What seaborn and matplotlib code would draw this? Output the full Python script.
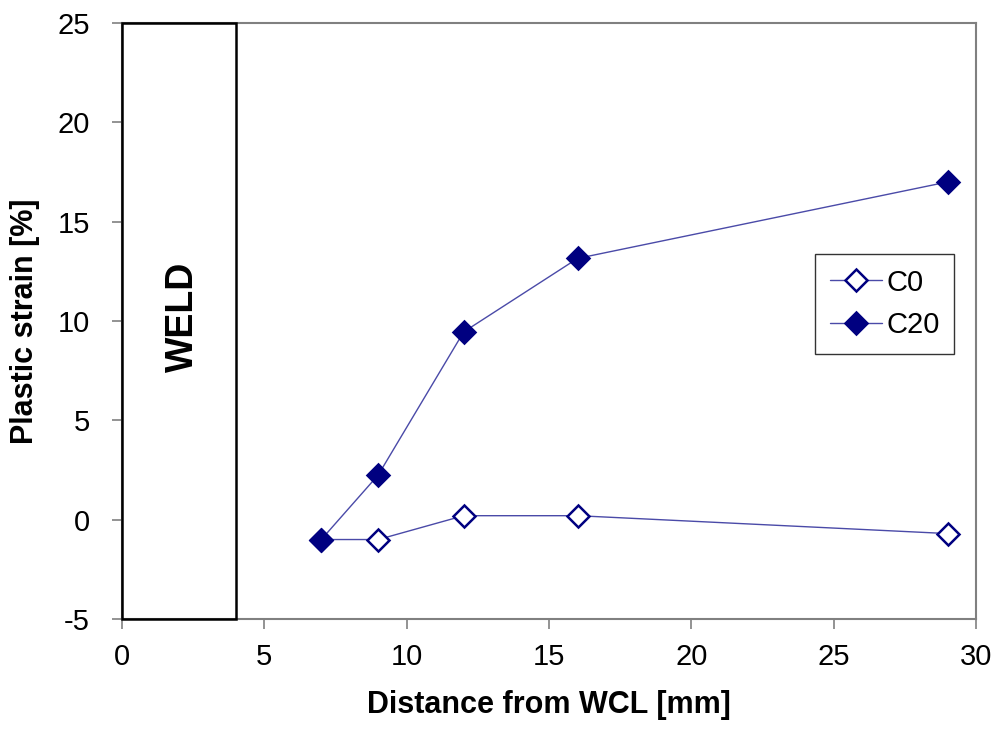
import matplotlib
matplotlib.use("Agg")
import matplotlib.pyplot as plt
from matplotlib.patches import Rectangle
import seaborn as sns
import pandas as pd

distance = [7, 9, 12, 16, 29]
c0 = [-1.0, -1.0, 0.2, 0.2, -0.7]
c20 = [-1.0, 2.25, 9.45, 13.15, 17.0]
series_names = ["C0", "C20"]
weld_range = [0, 4]

df = pd.DataFrame({
    "x": distance * 2,
    "y": c0 + c20,
    "series": [series_names[0]] * len(distance) + [series_names[1]] * len(distance),
})

sns.set_style("white")
plt.rcParams["font.family"] = ["Liberation Sans", "DejaVu Sans"]
plt.rcParams["axes.unicode_minus"] = False
plt.rcParams["text.color"] = "black"
plt.rcParams["axes.labelcolor"] = "black"

fig = plt.figure(figsize=(9.97, 7.29), dpi=100)
ax = fig.add_axes([0.1224, 0.1509, 0.9790 - 0.1224, 0.9684 - 0.1509])

navy = "#000080"
line_col = "#4a4aa8"
for name, filled in zip(series_names, [False, True]):
    sub = df[df["series"] == name]
    sns.lineplot(data=sub, x="x", y="y", ax=ax, color=line_col, linewidth=1.0,
                 marker="D", markersize=11,
                 markerfacecolor=(navy if filled else "white"),
                 markeredgecolor=navy, markeredgewidth=1.8,
                 label=name, legend=False)

ax.add_patch(Rectangle((weld_range[0], -5), weld_range[1] - weld_range[0], 30,
                       fill=False, edgecolor="black", linewidth=1.8, zorder=3, clip_on=False))
ax.text(2.14, 10.2, "WELD", rotation=90, ha="center", va="center",
        fontsize=27, fontweight="bold")

ax.set_xlim(0, 30)
ax.set_ylim(-5, 25)
ax.set_xticks(range(0, 31, 5))
ax.set_yticks(range(-5, 26, 5))
ax.tick_params(axis="both", labelsize=21, direction="out", length=7, width=1.2,
               color="#808080", labelcolor="black", bottom=True, left=True)
ax.tick_params(axis="x", pad=10)
ax.tick_params(axis="y", pad=16)
for s in ax.spines.values():
    s.set_color("#808080")
    s.set_linewidth(1.5)

ax.set_xlabel("Distance from WCL [mm]", fontsize=22, fontweight="bold", labelpad=14)
ax.set_ylabel("Plastic strain [%]", fontsize=22, fontweight="bold", labelpad=13)

leg = ax.legend(loc="upper left", bbox_to_anchor=(0.8115, 0.6124), borderaxespad=0,
                fontsize=21, frameon=True, fancybox=False, edgecolor="black",
                handlelength=1.8, handletextpad=0.15, borderpad=0.5,
                labelspacing=0.5)
leg.get_frame().set_linewidth(1.0)

fig.savefig("out.png", dpi=100, facecolor="white")
